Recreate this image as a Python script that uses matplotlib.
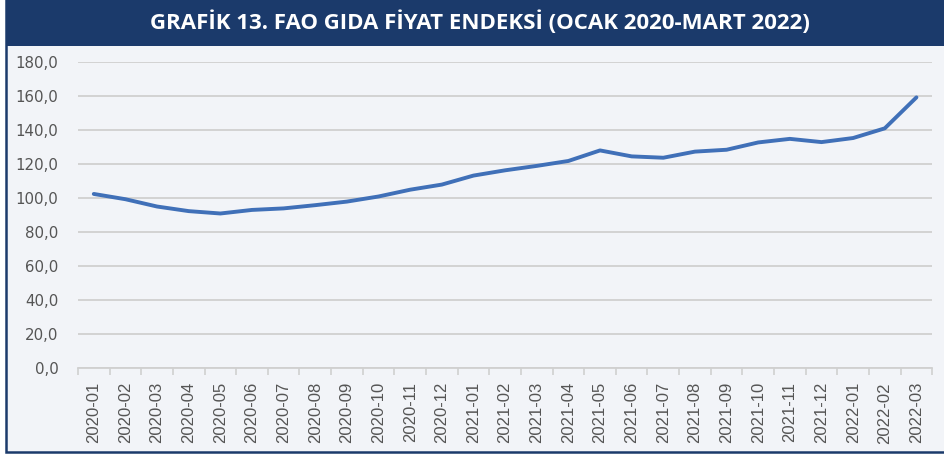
import matplotlib
matplotlib.use("Agg")
import matplotlib.pyplot as plt
from matplotlib.patches import Rectangle

### data
months = ['2020-01', '2020-02', '2020-03', '2020-04', '2020-05', '2020-06',
          '2020-07', '2020-08', '2020-09', '2020-10', '2020-11', '2020-12',
          '2021-01', '2021-02', '2021-03', '2021-04', '2021-05', '2021-06',
          '2021-07', '2021-08', '2021-09', '2021-10', '2021-11', '2021-12',
          '2022-01', '2022-02', '2022-03']
index_values = [102.5, 99.4, 95.1, 92.4, 91.0, 93.1, 94.0, 95.9, 98.0, 101.0,
                105.0, 108.0, 113.3, 116.4, 119.0, 121.9, 128.1, 124.6, 123.8,
                127.4, 128.5, 132.8, 134.9, 133.0, 135.4, 141.1, 159.3]
y_ticks = [0, 20, 40, 60, 80, 100, 120, 140, 160, 180]
title = 'GRAFİK 13. FAO GIDA FİYAT ENDEKSİ (OCAK 2020-MART 2022)'

bg = '#f2f4f8'
navy = '#1b3a6b'

fig = plt.figure(figsize=(9.45, 4.54), dpi=100, facecolor='white')

### background panel, frame and title bar
x0 = 6 / 945
y0 = 2 / 454
fig.add_artist(Rectangle((x0, y0), 1.0, 1.0, transform=fig.transFigure,
                         facecolor=bg, edgecolor=navy, linewidth=1.8, zorder=-10))
fig.add_artist(Rectangle((x0, 0.898), 1.0, 0.2, transform=fig.transFigure,
                         facecolor=navy, edgecolor='none', zorder=-9))
fig.text(0.508, 0.952, title, color='white', fontsize=16, fontweight='bold',
         family='Open Sans', ha='center', va='center')

### line chart
ax = fig.add_axes([0.0825, 0.189, 0.904, 0.674])
ax.patch.set_alpha(0)
x = list(range(len(months)))
ax.plot(x, index_values, color='#4070b8', linewidth=2.8, solid_capstyle='round')
ax.set_xlim(-0.5, len(months) - 0.5)
ax.set_ylim(0, 180)
ax.set_yticks(y_ticks)
ax.set_yticklabels([f'{v:.1f}'.replace('.', ',') for v in y_ticks])
ax.set_xticks(x)
ax.set_xticklabels(months, rotation=90, family='Liberation Sans')
ax.set_xticks([i - 0.5 for i in range(len(months) + 1)], minor=True)

ax.grid(axis='y', color='#d0d0d0', linewidth=1.3)
ax.set_axisbelow(True)
for s in ['top', 'right', 'left']:
    ax.spines[s].set_visible(False)
ax.spines['bottom'].set_color('#d0d0d0')
ax.spines['bottom'].set_linewidth(1.3)

ax.tick_params(axis='y', length=0, pad=14, labelsize=10.8, labelcolor='#555555')
ax.tick_params(axis='x', which='major', length=0, pad=10, labelsize=12,
               labelcolor='#555555')
ax.tick_params(axis='x', which='minor', length=5, color='#d0d0d0', width=1.2)

plt.savefig('out.png', dpi=100, facecolor='white')
